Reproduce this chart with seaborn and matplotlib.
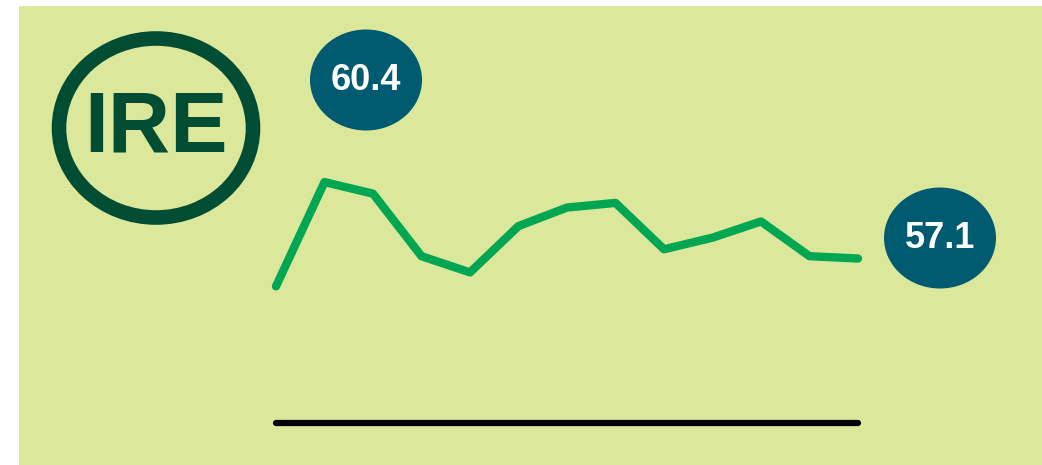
import matplotlib
matplotlib.use("Agg")
import matplotlib.pyplot as plt
from matplotlib.patches import Ellipse, Rectangle
import seaborn as sns
import pandas as pd

# values
periods = list(range(13))
values = [55.9, 60.4, 59.9, 57.2, 56.5, 58.5, 59.3, 59.5, 57.5, 58.0, 58.7, 57.2, 57.1]
country = "IRE"

bg = "#dbe89c"
dark_green = "#004d33"
line_green = "#00a651"
bubble = "#005a70"

sns.set_style("white")
plt.rcParams['font.family'] = ['Liberation Sans', 'DejaVu Sans']

W, H = 1042, 465
fig = plt.figure(figsize=(W / 100, H / 100), dpi=100)
fig.patch.set_facecolor("white")
fig.patches.append(Rectangle((19 / W, 0), 1 - 19 / W, 1 - 6 / H,
                             transform=fig.transFigure, facecolor=bg,
                             edgecolor="none", zorder=-10))

# line axes: x 276..858 px, y bottom at 423 px, top at 6 px
ax = fig.add_axes([276 / W, (H - 423) / H, (858 - 276) / W, (423 - 6) / H])
ax.set_zorder(1)
ax.set_facecolor("none")
df = pd.DataFrame({"period": periods, "value": values})
sns.lineplot(data=df, x="period", y="value", ax=ax, color=line_green,
             linewidth=6, solid_capstyle="round", solid_joinstyle="round",
             clip_on=False)
ax.axhline(50, color="black", linewidth=4.5, solid_capstyle="round", clip_on=False)
ax.set_xlim(0, 12)
ax.set_ylim(50, 68)
ax.set_axis_off()

# value bubbles
def bubble_label(cx, cy, text):
    e = Ellipse((cx / W, 1 - cy / H), 112 / W, 101 / H, transform=fig.transFigure,
                facecolor=bubble, edgecolor="none", zorder=3)
    fig.patches.append(e)
    fig.text(cx / W, 1 - cy / H, text, ha="center", va="center", color="white",
             fontsize=26, fontweight="bold", zorder=4)

bubble_label(366, 80, f"{max(values):.1f}")
bubble_label(940, 238, f"{values[-1]:.1f}")

# country badge
ring = Ellipse((156 / W, 1 - 128 / H), 194 / W, 179 / H, transform=fig.transFigure,
               facecolor="none", edgecolor=dark_green, linewidth=10.5, zorder=3)
fig.patches.append(ring)
fig.text(156 / W, 1 - 130 / H, country, ha="center", va="center", color=dark_green,
         fontsize=62, fontweight="bold", zorder=4)

fig.savefig("out.png", dpi=100, facecolor=fig.get_facecolor())
